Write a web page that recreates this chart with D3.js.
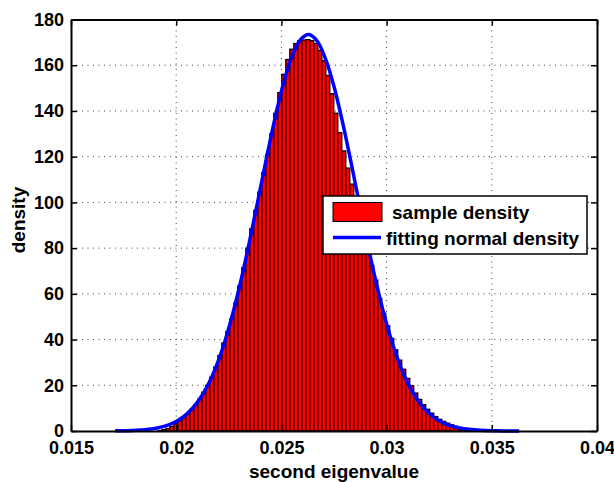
<!DOCTYPE html>
<html><head><meta charset="utf-8">
<script src="https://cdn.jsdelivr.net/npm/d3@7"></script>
<style>
body{margin:0;background:#fff}
svg{display:block}
text{font-family:"Liberation Sans",Arial,Helvetica,sans-serif;font-weight:bold;fill:#000}
</style>
</head><body><svg id="c" width="614" height="482"></svg>
<script>
// histogram bins (sample density)
const binStart = 0.01913;
const binWidth = 0.00019;
const sampleDensity = [
  0.2, 0.6, 1.1, 2.0, 3.2, 4.4, 5.8, 7.6, 9.5, 11.5,
  14.0, 17.0, 20.0, 23.5, 28.0, 33.0, 38.5, 43.5, 49.0, 56.0,
  63.5, 71.5, 80.0, 88.5, 96.5, 104.5, 113.0, 121.0, 130.0, 139.0,
  148.0, 156.0, 162.5, 167.0, 169.5, 170.7, 171.0, 171.2, 170.8, 169.5,
  166.5, 162.0, 155.5, 147.5, 139.0, 130.5, 122.5, 115.0, 108.0, 101.0,
  94.0, 86.5, 79.5, 72.5, 66.0, 58.0, 51.5, 46.0, 40.5, 35.5,
  31.0, 27.0, 23.0, 19.8, 16.6, 13.8, 11.5, 9.5, 7.8, 6.3,
  5.1, 4.2, 3.4, 2.7, 2.1, 1.6, 1.2, 0.8, 0.5
];
// fitting normal density, sampled along x
const fitStart = 0.0171;
const fitStep = 0.0004;
const fitDensity = [
  0.06, 0.12, 0.23, 0.42, 0.76, 1.33, 2.25, 3.71, 5.91, 9.15,
  13.75, 20.0, 28.3, 38.85, 51.7, 66.7, 83.6, 101.6, 119.8, 137.0,
  152.1, 163.8, 171.1, 173.45, 170.6, 162.7, 150.7, 135.3, 117.9, 99.7,
  81.7, 65.1, 50.2, 37.6, 27.3, 19.3, 13.2, 8.75, 5.64, 3.52,
  2.13, 1.26, 0.72, 0.40, 0.21, 0.11, 0.05, 0.03, 0.01
];
const xTicks = [0.015, 0.02, 0.025, 0.03, 0.035, 0.04];
const xTickLabels = ["0.015", "0.02", "0.025", "0.03", "0.035", "0.04"];
const yTicks = [0, 20, 40, 60, 80, 100, 120, 140, 160, 180];
const yTickLabels = ["0", "20", "40", "60", "80", "100", "120", "140", "160", "180"];
const legendLabels = ["sample density", "fitting normal density"];
const xTitle = "second eigenvalue";
const yTitle = "density";

const svg = d3.select("#c");
const L = 71, R = 597, T = 19.5, B = 431;
const x = d3.scaleLinear().domain([0.015, 0.04]).range([L, R]);
const y = d3.scaleLinear().domain([0, 180]).range([B, T]);

// grid
const grid = svg.append("g").attr("stroke", "#444").attr("stroke-width", 1).attr("stroke-dasharray", "1,4.5");
xTicks.slice(1, -1).forEach(t => grid.append("line").attr("x1", x(t)).attr("x2", x(t)).attr("y1", T).attr("y2", B));
yTicks.slice(1, -1).forEach(t => grid.append("line").attr("x1", L).attr("x2", R).attr("y1", y(t)).attr("y2", y(t)));

// bars
svg.append("g").selectAll("rect").data(sampleDensity).join("rect")
  .attr("x", (d, i) => x(binStart + i * binWidth))
  .attr("width", (d, i) => x(binStart + (i + 1) * binWidth) - x(binStart + i * binWidth))
  .attr("y", d => y(d))
  .attr("height", d => y(0) - y(d))
  .attr("fill", "#ff0000").attr("stroke", "#000").attr("stroke-width", 1.3);

// fitted curve
const line = d3.line().x((d, i) => x(fitStart + i * fitStep)).y(d => y(d)).curve(d3.curveCatmullRom);
svg.append("path").datum(fitDensity).attr("d", line)
  .attr("fill", "none").attr("stroke", "#0000ff").attr("stroke-width", 3.5).attr("stroke-linejoin", "round");

// axes
function styleAxis(g) {
  g.attr("font-family", null).attr("font-size", null);
  g.select(".domain").attr("stroke", "#000").attr("stroke-width", 2);
  g.selectAll(".tick line").attr("stroke", "#000").attr("stroke-width", 1.5);
  g.selectAll(".tick text").style("font-size", "18px");
}
const xb = svg.append("g").attr("transform", `translate(0,${B})`)
  .call(d3.axisBottom(x).tickValues(xTicks).tickFormat((d, i) => xTickLabels[i]).tickSize(-6).tickSizeOuter(0).tickPadding(10));
styleAxis(xb);
const xt = svg.append("g").attr("transform", `translate(0,${T})`)
  .call(d3.axisTop(x).tickValues(xTicks).tickFormat("").tickSize(-6).tickSizeOuter(0));
styleAxis(xt);
const yl = svg.append("g").attr("transform", `translate(${L},0)`)
  .call(d3.axisLeft(y).tickValues(yTicks).tickFormat((d, i) => yTickLabels[i]).tickSize(-6).tickSizeOuter(0).tickPadding(7));
styleAxis(yl);
const yr = svg.append("g").attr("transform", `translate(${R},0)`)
  .call(d3.axisRight(y).tickValues(yTicks).tickFormat("").tickSize(-6).tickSizeOuter(0));
styleAxis(yr);

// axis titles
svg.append("text").attr("x", 334).attr("y", 478).attr("text-anchor", "middle").style("font-size", "19px").text(xTitle);
svg.append("text").attr("transform", `translate(25,220) rotate(-90)`).attr("text-anchor", "middle").style("font-size", "19px").text(yTitle);

// legend
const lg = svg.append("g");
lg.append("rect").attr("x", 323).attr("y", 196).attr("width", 264).attr("height", 58)
  .attr("fill", "#fff").attr("stroke", "#000").attr("stroke-width", 1.5);
lg.append("rect").attr("x", 333).attr("y", 202.5).attr("width", 49).attr("height", 19)
  .attr("fill", "#ff0000").attr("stroke", "#000").attr("stroke-width", 1);
lg.append("text").attr("x", 392).attr("y", 219).style("font-size", "19px").text(legendLabels[0]);
lg.append("line").attr("x1", 333).attr("x2", 381).attr("y1", 237.5).attr("y2", 237.5)
  .attr("stroke", "#0000ff").attr("stroke-width", 3.5);
lg.append("text").attr("x", 386).attr("y", 245).style("font-size", "19px").text(legendLabels[1]);
</script>
</body></html>
